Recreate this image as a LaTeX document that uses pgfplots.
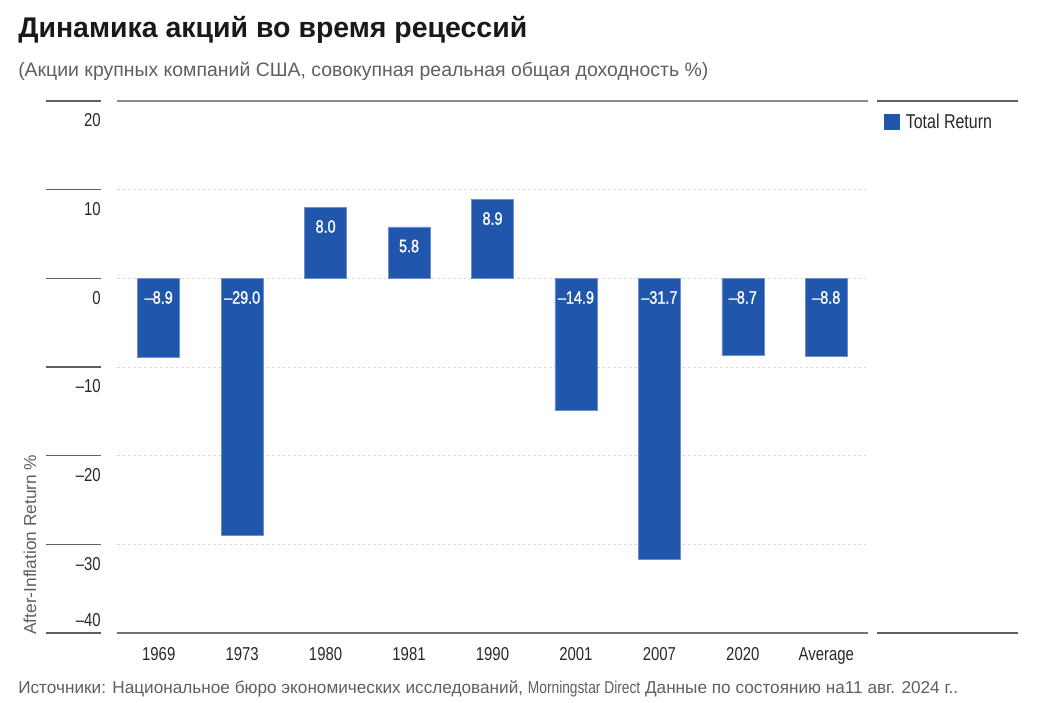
\documentclass[border=0pt]{standalone}
\usepackage{pgfplots}
\pgfplotsset{compat=1.18}
\usepackage{fontspec}
\setmainfont{Liberation Sans}
\newfontfamily\cond[FakeStretch=0.8]{Liberation Sans}
\newfontfamily\condmed[FakeStretch=0.8, FakeBold=1.2]{Liberation Sans}
\definecolor{barblue}{RGB}{33,86,173}
\definecolor{baredge}{RGB}{110,145,205}
\definecolor{txtgray}{RGB}{40,40,40}
\definecolor{subgray}{RGB}{95,95,95}
\definecolor{linegray}{RGB}{95,95,95}
\begin{document}
\begin{tikzpicture}[x=0.75pt,y=-0.75pt]
\path[use as bounding box] (0,0) rectangle (1040,703);
% title, subtitle
\node[anchor=base west, inner sep=0pt, text=black!90] at (18,37)
  {\resizebox{381.75pt}{!}{\fontsize{23}{26}\selectfont\bfseries Динамика акций во время рецессий}};
\node[anchor=base west, inner sep=0pt, text=subgray] at (18,76)
  {\resizebox{517.5pt}{!}{\fontsize{13.6}{16}\selectfont (Акции крупных компаний США, совокупная реальная общая доходность \%)}};
\begin{axis}[
  at={(87.75pt,-474.75pt)}, anchor=south west,
  scale only axis, width=563.25pt, height=399pt,
  xmin=-0.5, xmax=8.5, ymin=-40, ymax=20,
  axis line style={draw=none},
  major tick length=0pt,
  ytick={-30,-20,-10,0,10,20},
  yticklabels={–30,–20,–10,0,10,20},
  extra y ticks={-40},
  extra y tick labels={–40},
  extra y tick style={yticklabel style={yshift=24pt}},
  xtick={0,1,2,3,4,5,6,7,8},
  xticklabels={1969,1973,1980,1981,1990,2001,2007,2020,Average},
  yticklabel style={anchor=east, inner sep=0pt, xshift=-12pt, yshift=-14.25pt,
     text height=10pt, text depth=0pt, font=\cond\fontsize{14}{16}\selectfont, text=txtgray},
  xticklabel style={anchor=center, inner sep=0pt, yshift=-15.75pt,
     text height=10pt, text depth=0pt, font=\cond\fontsize{14}{16}\selectfont, text=txtgray},
  ymajorgrids,
  grid style={dash pattern=on 2pt off 2pt, black!14, line width=0.75pt},
  clip=false,
  legend style={at={(1.0213,0.9812)}, anchor=north west, draw=none, fill=none,
     inner sep=0pt, font=\cond\fontsize{15}{17}\selectfont, text=txtgray},
  legend cell align=left,
  legend image code/.code={\fill[barblue] (0pt,-5.625pt) rectangle (11.25pt,5.625pt);},
]
\addplot[ybar, bar width=31.5pt, fill=barblue, draw=baredge, line width=0.4pt]
  coordinates {(0,-8.9) (1,-29.0) (2,8.0) (3,5.8) (4,8.9) (5,-14.9) (6,-31.7) (7,-8.7) (8,-8.8)};
\addlegendentry{\hspace{2.5pt}Total Return}
\addplot[draw=none, mark=none, forget plot,
  nodes near coords, point meta=explicit symbolic,
  nodes near coords style={anchor=center, yshift=-14.25pt, text=white,
     font=\condmed\fontsize{13.5}{15}\selectfont, text height=9.5pt, text depth=0pt, inner sep=0pt}]
  coordinates {(0,0)[–8.9] (1,0)[–29.0] (2,8.0)[8.0] (3,5.8)[5.8] (4,8.9)[8.9]
               (5,0)[–14.9] (6,0)[–31.7] (7,0)[–8.7] (8,0)[–8.8]};
\end{axis}
% frame lines
\draw[black!45, line width=0.9pt] (117,101) -- (868,101);
\draw[black!55, line width=0.9pt] (117,633) -- (868,633);
\draw[linegray, line width=0.9pt] (877,101) -- (1018,101);
\draw[linegray, line width=0.9pt] (877,633) -- (1018,633);
\foreach \yy in {101,189.67,278.33,367,455.67,544.33,633}
  \draw[linegray, line width=0.9pt] (46,\yy) -- (101,\yy);
% y label
\node[rotate=90, anchor=west, inner sep=0pt, text=subgray]
  at (30,635) {\resizebox{135pt}{!}{\fontsize{12.5}{14}\selectfont After-Inflation Return \%}};
% source
\node[anchor=base west, inner sep=0pt, text=subgray] at (18,693)
  {\resizebox{705pt}{!}{\fontsize{12.5}{15}\selectfont Источники: Национальное бюро экономических исследований, {\cond Morningstar Direct} Данные по состоянию на11 авг. 2024 г..}};
\end{tikzpicture}
\end{document}
